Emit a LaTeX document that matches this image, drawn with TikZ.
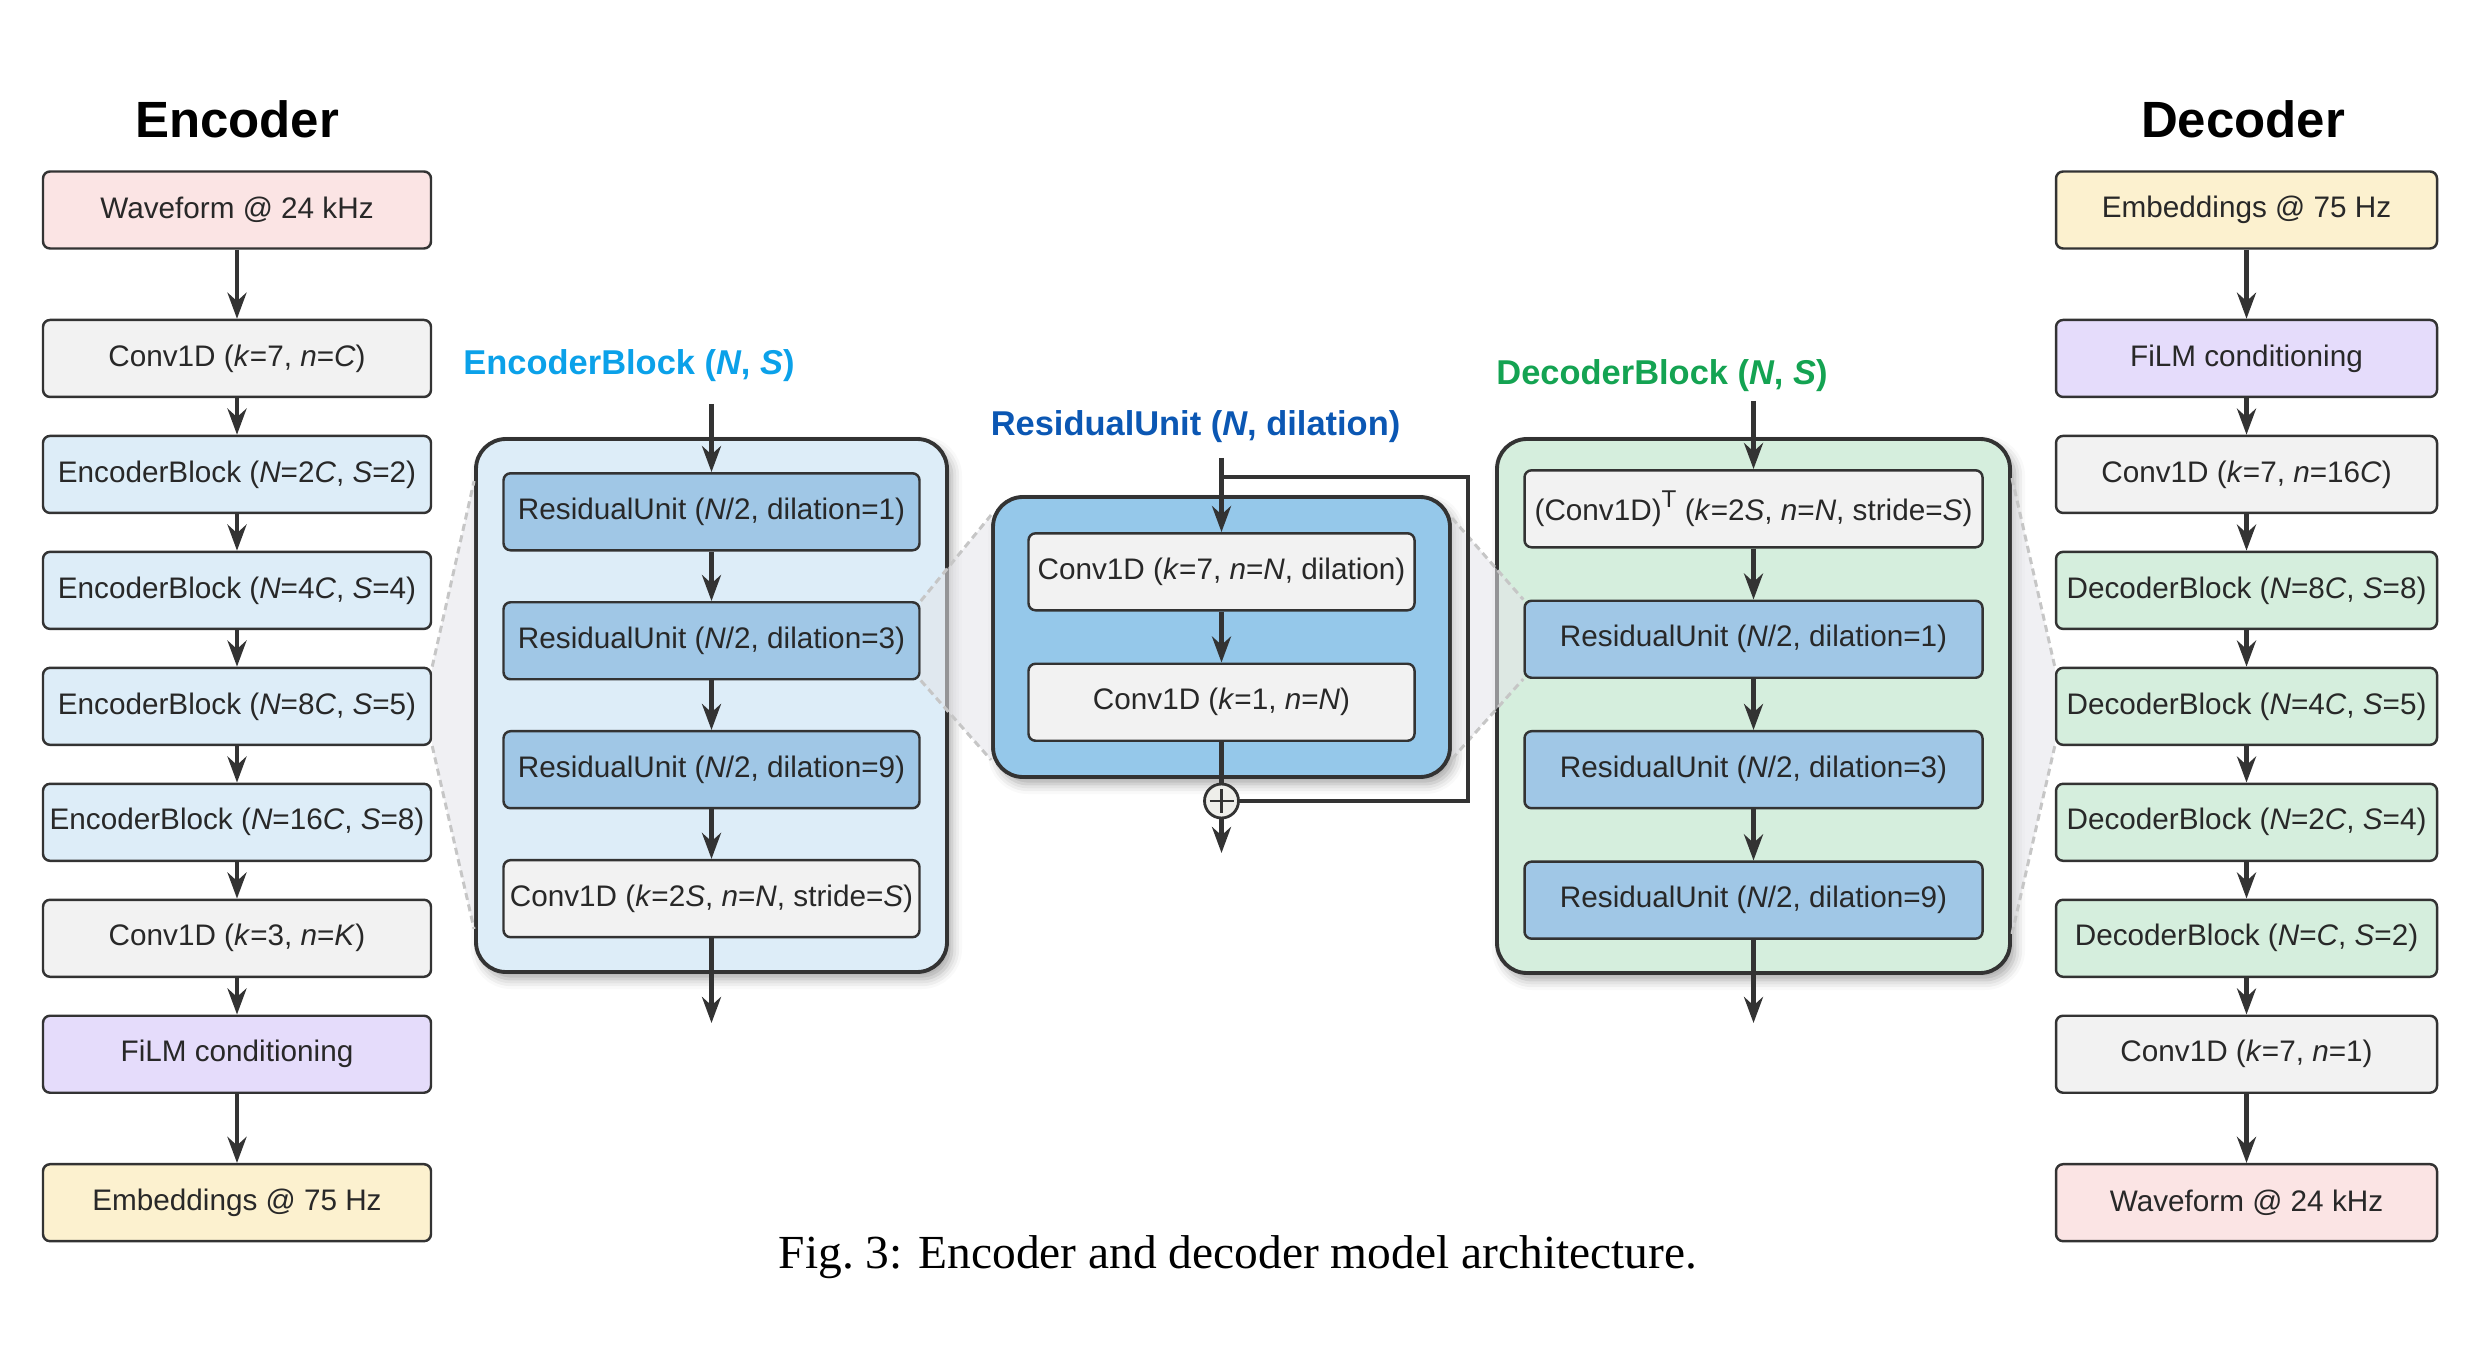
\documentclass[tikz,border=0pt]{standalone}
\usepackage{fontspec}
\setmainfont{Liberation Sans}
\newfontfamily\capfont{Liberation Serif}
\usetikzlibrary{arrows.meta,positioning,calc,shadows.blur}
\definecolor{ink}{HTML}{333333}
\definecolor{txt}{HTML}{282828}
\definecolor{wavpink}{HTML}{FBE4E4}
\definecolor{convgray}{HTML}{F2F2F2}
\definecolor{encblue}{HTML}{DDEDF8}
\definecolor{resblue}{HTML}{A0C7E6}
\definecolor{respanel}{HTML}{95C8EA}
\definecolor{filmpurple}{HTML}{E5DCFB}
\definecolor{embyellow}{HTML}{FCF1CF}
\definecolor{decgreen}{HTML}{D5EEDD}
\definecolor{enctitle}{HTML}{0BA1E9}
\definecolor{restitle}{HTML}{0B57B3}
\definecolor{dectitle}{HTML}{14A352}
\definecolor{zoomgray}{HTML}{E4E4E9}
\definecolor{zoomdash}{HTML}{C6C6C6}
\definecolor{sumfill}{HTML}{EEEEEA}

\begin{document}
\begin{tikzpicture}[
    font=\fontsize{8.45}{10}\selectfont,
    node distance=0.365cm,
    blk/.style={draw=ink, line width=0.7pt, rounded corners=2pt, minimum width=3.88cm, minimum height=0.77cm, inner sep=0.5pt, align=center, text=txt},
    rblk/.style={blk, minimum width=3.81cm},
    wav/.style={blk, fill=wavpink},
    conv/.style={blk, fill=convgray},
    encb/.style={blk, fill=encblue},
    film/.style={blk, fill=filmpurple},
    emb/.style={blk, fill=embyellow},
    decb/.style={blk, fill=decgreen},
    resu/.style={blk, fill=resblue},
    panel/.style={draw=ink, line width=1.1pt, rounded corners=0.3cm, inner sep=0pt, blur shadow={shadow xshift=0.5mm, shadow yshift=-0.7mm, shadow blur radius=1mm, shadow opacity=35}},
    title/.style={font=\bfseries\fontsize{14.5}{17}\selectfont, text=black},
    subtitle/.style={font=\bfseries\fontsize{9.8}{12}\selectfont},
    arrow/.style={-{Stealth[length=2.6mm, width=1.9mm]}, line width=1.4pt, draw=ink},
    flow/.style={line width=1.4pt, draw=ink},
    zoomfill/.style={fill=zoomgray, fill opacity=0.55},
    zoomline/.style={draw=zoomdash, line width=0.85pt, dash pattern=on 2pt off 1.3pt},
    sumc/.style={circle, draw=ink, fill=sumfill, line width=0.8pt, minimum size=0.34cm, inner sep=0pt,
        path picture={\draw[ink, line width=0.7pt] (path picture bounding box.center) ++(0,0.12) -- ++(0,-0.24) (path picture bounding box.center) ++(-0.12,0) -- ++(0.24,0);}}
]
\useasboundingbox (0,0) rectangle (24.86,-13.66);

\node[title] (enct) at (2.37,-1.19) {Encoder};
\node[wav] (ewav) at (2.37,-2.10) {Waveform @ 24 kHz};
\node[conv, below=0.69cm of ewav] (econv1) {Conv1D (\textit{k}=7, \textit{n}=\textit{C})};
\node[encb, below=of econv1] (eb1) {EncoderBlock (\textit{N}=2\textit{C}, \textit{S}=2)};
\node[encb, below=of eb1] (eb2) {EncoderBlock (\textit{N}=4\textit{C}, \textit{S}=4)};
\node[encb, below=of eb2] (eb3) {EncoderBlock (\textit{N}=8\textit{C}, \textit{S}=5)};
\node[encb, below=of eb3] (eb4) {EncoderBlock (\textit{N}=16\textit{C}, \textit{S}=8)};
\node[conv, below=of eb4] (econv2) {Conv1D (\textit{k}=3, \textit{n}=\textit{K})};
\node[film, below=of econv2] (efilm) {FiLM conditioning};
\node[emb, below=0.69cm of efilm] (eemb) {Embeddings @ 75 Hz};

\node[title] (dect) at (22.43,-1.19) {Decoder};
\node[emb, rblk] (demb) at (22.465,-2.10) {Embeddings @ 75 Hz};
\node[film, rblk, below=0.69cm of demb] (dfilm) {FiLM conditioning};
\node[conv, rblk, below=of dfilm] (dconv1) {Conv1D (\textit{k}=7, \textit{n}=16\textit{C})};
\node[decb, rblk, below=of dconv1] (db1) {DecoderBlock (\textit{N}=8\textit{C}, \textit{S}=8)};
\node[decb, rblk, below=of db1] (db2) {DecoderBlock (\textit{N}=4\textit{C}, \textit{S}=5)};
\node[decb, rblk, below=of db2] (db3) {DecoderBlock (\textit{N}=2\textit{C}, \textit{S}=4)};
\node[decb, rblk, below=of db3] (db4) {DecoderBlock (\textit{N}=\textit{C}, \textit{S}=2)};
\node[conv, rblk, below=of db4] (dconv2) {Conv1D (\textit{k}=7, \textit{n}=1)};
\node[wav, rblk, below=0.69cm of dconv2] (dwav) {Waveform @ 24 kHz};

\node[subtitle, text=enctitle] (ebt) at (6.29,-3.66) {EncoderBlock (\textit{N}, \textit{S})};
\node[panel, fill=encblue, minimum width=4.71cm, minimum height=5.33cm] (epanel) at (7.115,-7.055) {};
\node[resu, minimum width=4.16cm, below=0.35cm of epanel.north] (er1) {ResidualUnit (\textit{N}/2, dilation=1)};
\node[resu, minimum width=4.16cm, below=0.495cm of er1] (er3) {ResidualUnit (\textit{N}/2, dilation=3)};
\node[resu, minimum width=4.16cm, below=0.495cm of er3] (er9) {ResidualUnit (\textit{N}/2, dilation=9)};
\node[conv, minimum width=4.16cm, below=0.495cm of er9] (econv) {Conv1D (\textit{k}=2\textit{S}, \textit{n}=\textit{N}, stride=\textit{S})};
\coordinate (ein) at (7.115,-4.04);
\coordinate (eout) at (7.115,-10.23);

\node[subtitle, text=restitle] (rut) at (11.955,-4.265) {ResidualUnit (\textit{N}, dilation)};
\node[panel, fill=respanel, minimum width=4.57cm, minimum height=2.80cm] (rpanel) at (12.215,-6.37) {};
\node[conv, minimum width=3.86cm, below=0.37cm of rpanel.north] (rc1) {Conv1D (\textit{k}=7, \textit{n}=\textit{N}, dilation)};
\node[conv, minimum width=3.86cm, below=0.51cm of rc1] (rc2) {Conv1D (\textit{k}=1, \textit{n}=\textit{N})};
\node[sumc] (sum) at (12.215,-8.01) {};
\coordinate (rin) at (12.215,-4.58);
\coordinate (rsplit) at (12.215,-4.77);
\coordinate (rright) at (14.68,-4.77);
\coordinate (rout) at (12.215,-8.53);

\node[subtitle, text=dectitle] (dbt) at (16.62,-3.76) {DecoderBlock (\textit{N}, \textit{S})};
\node[panel, fill=decgreen, minimum width=5.13cm, minimum height=5.34cm] (dpanel) at (17.535,-7.06) {};
\node[conv, minimum width=4.58cm, below=0.32cm of dpanel.north] (dct) {(Conv1D)\raisebox{0.85ex}{\fontsize{6.9}{7}\selectfont T} (\textit{k}=2\textit{S}, \textit{n}=\textit{N}, stride=\textit{S})};
\node[resu, minimum width=4.58cm, below=0.51cm of dct] (dr1) {ResidualUnit (\textit{N}/2, dilation=1)};
\node[resu, minimum width=4.58cm, below=0.51cm of dr1] (dr3) {ResidualUnit (\textit{N}/2, dilation=3)};
\node[resu, minimum width=4.58cm, below=0.51cm of dr3] (dr9) {ResidualUnit (\textit{N}/2, dilation=9)};
\coordinate (din) at (17.535,-4.01);
\coordinate (dout) at (17.535,-10.23);

\path[zoomfill] (eb3.north east) -- ($(epanel.north west)+(0,-0.44)$) -- ($(epanel.south west)+(0,0.45)$) -- (eb3.south east) -- cycle;
\path[zoomfill] (er3.north east) -- ($(rpanel.north west)+(0,-0.2)$) -- ($(rpanel.south west)+(0,0.19)$) -- (er3.south east) -- cycle;
\path[zoomfill] ($(rpanel.north east)+(0,-0.23)$) -- (dr1.north west) -- (dr1.south west) -- ($(rpanel.south east)+(0,0.2)$) -- cycle;
\path[zoomfill] ($(dpanel.north east)+(0,-0.41)$) -- (db2.north west) -- (db2.south west) -- ($(dpanel.south east)+(0,0.41)$) -- cycle;
\draw[zoomline] (eb3.north east) -- ($(epanel.north west)+(0,-0.44)$);
\draw[zoomline] (eb3.south east) -- ($(epanel.south west)+(0,0.45)$);
\draw[zoomline] (er3.north east) -- ($(rpanel.north west)+(0,-0.2)$);
\draw[zoomline] (er3.south east) -- ($(rpanel.south west)+(0,0.19)$);
\draw[zoomline] ($(rpanel.north east)+(0,-0.23)$) -- (dr1.north west);
\draw[zoomline] ($(rpanel.south east)+(0,0.2)$) -- (dr1.south west);
\draw[zoomline] ($(dpanel.north east)+(0,-0.41)$) -- (db2.north west);
\draw[zoomline] ($(dpanel.south east)+(0,0.41)$) -- (db2.south west);

\draw[arrow] (ewav) -- (econv1);
\draw[arrow] (econv1) -- (eb1);
\draw[arrow] (eb1) -- (eb2);
\draw[arrow] (eb2) -- (eb3);
\draw[arrow] (eb3) -- (eb4);
\draw[arrow] (eb4) -- (econv2);
\draw[arrow] (econv2) -- (efilm);
\draw[arrow] (efilm) -- (eemb);

\draw[arrow] (demb) -- (dfilm);
\draw[arrow] (dfilm) -- (dconv1);
\draw[arrow] (dconv1) -- (db1);
\draw[arrow] (db1) -- (db2);
\draw[arrow] (db2) -- (db3);
\draw[arrow] (db3) -- (db4);
\draw[arrow] (db4) -- (dconv2);
\draw[arrow] (dconv2) -- (dwav);

\draw[arrow] (ein) -- (er1);
\draw[arrow] (er1) -- (er3);
\draw[arrow] (er3) -- (er9);
\draw[arrow] (er9) -- (econv);
\draw[arrow] (econv) -- (eout);

\draw[arrow] (rin) -- (rc1);
\draw[arrow] (rc1) -- (rc2);
\draw[flow] (rc2) -- (sum);
\draw[flow] (rsplit) -- (rright) |- (sum);
\draw[arrow] (sum) -- (rout);

\draw[arrow] (din) -- (dct);
\draw[arrow] (dct) -- (dr1);
\draw[arrow] (dr1) -- (dr3);
\draw[arrow] (dr3) -- (dr9);
\draw[arrow] (dr9) -- (dout);

\node[font=\capfont\fontsize{13.5}{16}\selectfont] (cap) at (12.38,-12.57) {Fig.~3: Encoder and decoder model architecture.};
\end{tikzpicture}
\end{document}
